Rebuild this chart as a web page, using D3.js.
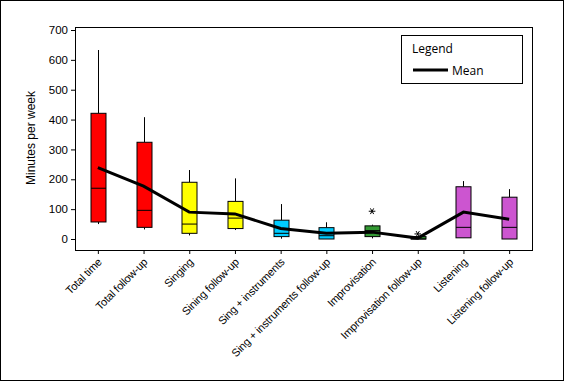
<!DOCTYPE html>
<html><head><meta charset="utf-8">
<script src="https://cdn.jsdelivr.net/npm/d3@7"></script>
<style>
html,body{margin:0;padding:0;background:#fff;}
svg{display:block;}
</style></head>
<body>
<svg id="chart" width="565" height="382"></svg>
<script>
const categories = ["Total time","Total follow-up","Singing","Sining follow-up","Sing + instruments","Sing + instruments follow-up","Improvisation","Improvisation follow-up","Listening","Listening follow-up"];
const whiskerLow  = [50, 32, 12, 30, 1, 0, 2, 0, 4, 0];
const q1Values    = [57, 39, 19, 35, 8, 0, 8, 0, 4, 0];
const medians     = [170, 96, 50, 70, 19, 11, 28, 0, 39, 39];
const q3Values    = [421, 324, 190, 126, 63, 38, 44, 8, 175, 140];
const whiskerHigh = [633, 408, 231, 203, 117, 56, 48, 8, 194, 167];
const means       = [239, 177, 90, 84, 35, 19, 23, 3, 90, 66];
const outlierCats = ["Improvisation", "Improvisation follow-up"];
const outlierVals = [93, 17];
const yTicks = [0,100,200,300,400,500,600,700];
const boxColors = ["#ff0000","#ff0000","#ffff00","#ffff00","#00ccff","#00ccff","#339933","#339933","#cc55d0","#cc55d0"];

const svg = d3.select("#chart");
const W = 565, H = 382;
const plot = {left:75, top:27, right:532, bottom:250};

svg.append("rect").attr("x",0.5).attr("y",0.5).attr("width",W-2).attr("height",H-2)
  .attr("fill","#fff").attr("stroke","#000").attr("stroke-width",1);

const x = d3.scalePoint().domain(categories).range([plot.left, plot.right]).padding(0.5);
const y = d3.scaleLinear().domain([0,700]).range([239,30]);

const font = "'Liberation Sans', Arial, sans-serif";

// Y axis
const yAxis = svg.append("g").attr("transform",`translate(${plot.left},0)`)
  .call(d3.axisLeft(y).tickValues(yTicks).tickSize(4).tickPadding(3));
yAxis.select(".domain").remove();
yAxis.selectAll("text").attr("font-family",font).attr("font-size","11.5px").attr("fill","#000");

// X axis
const xAxis = svg.append("g").attr("transform",`translate(0,${plot.bottom})`)
  .call(d3.axisBottom(x).tickSize(4).tickFormat(""));
xAxis.select(".domain").remove();
svg.append("g").selectAll("text").data(categories).join("text")
  .attr("transform", d => `translate(${x(d)+2},${plot.bottom+10}) rotate(-45)`)
  .attr("text-anchor","end")
  .attr("dy","0.35em")
  .attr("font-family",font).attr("font-size","11px").attr("letter-spacing","-0.15px").attr("fill","#000")
  .text(d => d);

// frame
svg.append("rect").attr("x",plot.left+0.5).attr("y",plot.top+0.5)
  .attr("width",plot.right-plot.left).attr("height",plot.bottom-plot.top)
  .attr("fill","none").attr("stroke","#000").attr("stroke-width",1);

// Y label
svg.append("text").attr("transform",`translate(35,138) rotate(-90)`)
  .attr("text-anchor","middle").attr("font-family",font).attr("font-size","12px")
  .attr("fill","#000").text("Minutes per week");

// boxes
const bw = 15;
const g = svg.append("g");
categories.forEach((c,i)=>{
  const cx = Math.round(x(c)) + 0.5;
  g.append("line").attr("x1",cx).attr("x2",cx).attr("y1",y(whiskerHigh[i])).attr("y2",y(q3Values[i]))
    .attr("stroke","#000");
  g.append("line").attr("x1",cx).attr("x2",cx).attr("y1",y(q1Values[i])).attr("y2",y(whiskerLow[i]))
    .attr("stroke","#000");
  g.append("rect").attr("x",cx-bw/2).attr("y",y(q3Values[i]))
    .attr("width",bw).attr("height",Math.max(1,y(q1Values[i])-y(q3Values[i])))
    .attr("fill",boxColors[i]).attr("stroke","#000").attr("stroke-width",1);
  g.append("line").attr("x1",cx-bw/2).attr("x2",cx+bw/2).attr("y1",y(medians[i])).attr("y2",y(medians[i]))
    .attr("stroke","#000");
});

// mean line
svg.append("path").datum(categories)
  .attr("d", d3.line().x(d=>x(d)).y((d,i)=>y(means[i])))
  .attr("fill","none").attr("stroke","#000").attr("stroke-width",3);

// outliers
svg.append("g").selectAll("path").data(outlierCats).join("path")
  .attr("transform",(d,i)=>`translate(${x(d)},${y(outlierVals[i])}) rotate(90)`)
  .attr("d", d3.symbol(d3.symbolAsterisk, 30))
  .attr("fill","none").attr("stroke","#000").attr("stroke-width",1);

// legend
const lg = svg.append("g");
lg.append("rect").attr("x",401.5).attr("y",35.5).attr("width",121).attr("height",48)
  .attr("fill","#fff").attr("stroke","#000");
lg.append("text").attr("x",412).attr("y",53).attr("font-family","'Open Sans', sans-serif")
  .attr("font-size","12px").attr("fill","#000").text("Legend");
lg.append("line").attr("x1",413).attr("x2",448).attr("y1",70).attr("y2",70)
  .attr("stroke","#000").attr("stroke-width",3);
lg.append("text").attr("x",452).attr("y",75).attr("font-family","'Open Sans', sans-serif")
  .attr("font-size","12px").attr("fill","#000").text("Mean");
</script>
</body></html>
